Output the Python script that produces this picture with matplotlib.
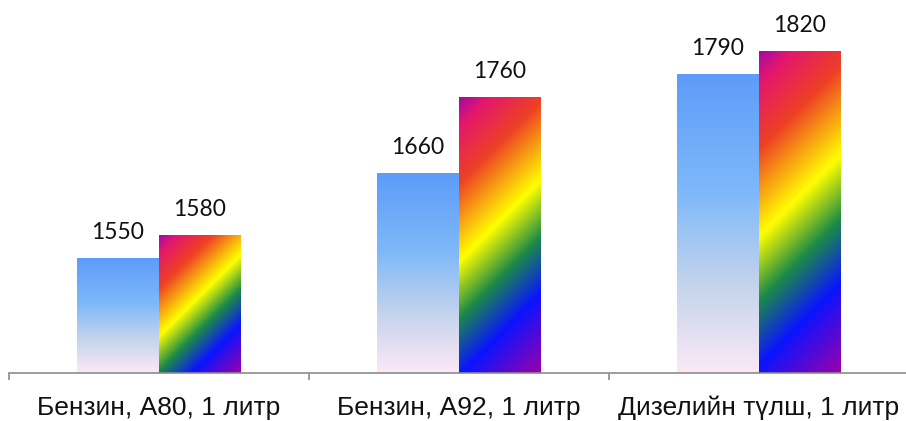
import numpy as np
import matplotlib
matplotlib.use("Agg")
import matplotlib.pyplot as plt
from matplotlib.colors import LinearSegmentedColormap
from matplotlib.transforms import blended_transform_factory

categories = ["Бензин, А80, 1 литр", "Бензин, А92, 1 литр", "Дизелийн түлш, 1 литр"]
series_a = [1550, 1660, 1790]
series_b = [1580, 1760, 1820]

blue_cmap = LinearSegmentedColormap.from_list("blue", [
    (0.0, "#5e9cf9"), (0.4, "#7fb9f9"), (0.7, "#c3d3ec"), (1.0, "#fbe9f6")])
rainbow_cmap = LinearSegmentedColormap.from_list("rainbow_diag", [
    (0.0, "#a30aa5"), (0.08, "#e4176c"), (0.24, "#ee4123"), (0.35, "#f7a012"),
    (0.46, "#ffff00"), (0.62, "#1b8a48"), (0.78, "#0a14ff"), (1.0, "#9b00aa")])

fig = plt.figure(figsize=(9.06, 4.21), dpi=100)
ax = fig.add_axes([9 / 906, 48 / 421, 900 / 906, 373 / 421])
ax.set_xlim(-0.5, 2.5)
ax.set_ylim(1400, 1887)

x = np.arange(len(categories))
w = 82 / 300
bars_a = ax.bar(x - w / 2, series_a, w, bottom=0, facecolor="none", edgecolor="none")
bars_b = ax.bar(x + w / 2, series_b, w, bottom=0, facecolor="none", edgecolor="none")


def fill_bar(patch, kind):
    x0, y0 = patch.get_x(), 1400
    x1, y1 = x0 + patch.get_width(), patch.get_height()
    p0 = ax.transData.transform((x0, y0))
    p1 = ax.transData.transform((x1, y1))
    wpx = max(int(abs(p1[0] - p0[0])), 2)
    hpx = max(int(abs(p1[1] - p0[1])), 2)
    if kind == "blue":
        t = np.linspace(0, 1, hpx)[:, None] * np.ones((1, wpx))
        cmap = blue_cmap
    else:
        xx, yy = np.meshgrid(np.arange(wpx), np.arange(hpx))
        t = (xx + yy) / float(wpx + hpx - 2)
        cmap = rainbow_cmap
    ax.imshow(t, cmap=cmap, vmin=0, vmax=1, extent=(x0, x1, y0, y1),
              origin="upper", aspect="auto", interpolation="bilinear", zorder=2)


for p in bars_a:
    fill_bar(p, "blue")
for p in bars_b:
    fill_bar(p, "rainbow")

ax.set_xlim(-0.5, 2.5)
ax.set_ylim(1400, 1887)

for bars, vals in ((bars_a, series_a), (bars_b, series_b)):
    for p, v in zip(bars, vals):
        ax.annotate(str(v), (p.get_x() + p.get_width() / 2, v), xytext=(0, 14),
                    textcoords="offset points", ha="center", va="baseline",
                    fontsize=16.5, family="Lato", color="#111111")

trans = blended_transform_factory(ax.transData, ax.transAxes)
for i, c in enumerate(categories):
    ax.text(i, -42 / 373, c, transform=trans, ha="center", va="baseline",
            fontsize=19, family="Liberation Sans", color="#111111")

for s in ("top", "left", "right"):
    ax.spines[s].set_visible(False)
ax.spines["bottom"].set_color("#8c8c8c")
ax.spines["bottom"].set_linewidth(1.2)
ax.set_yticks([])
ax.set_xticks([-0.5, 0.5, 1.5, 2.5])
ax.set_xticklabels([])
ax.tick_params(axis="x", length=5, color="#8c8c8c", width=1.2)

fig.savefig("out.png", dpi=100)
